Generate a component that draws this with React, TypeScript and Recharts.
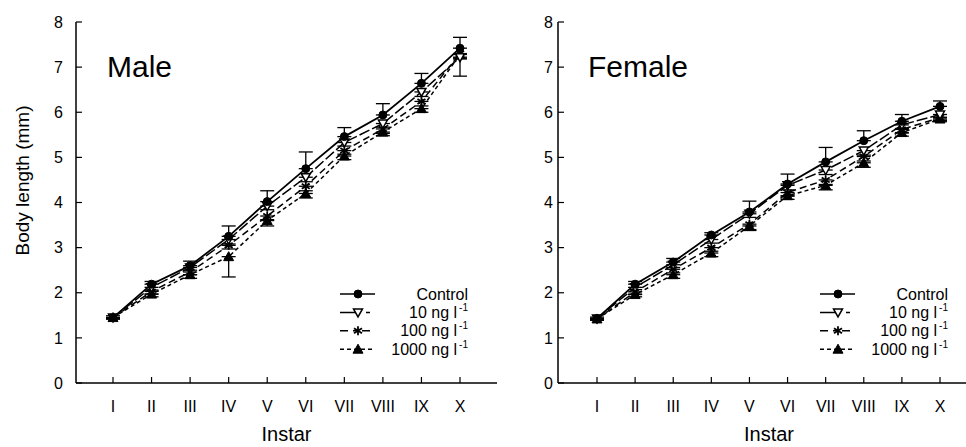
import React from 'react';
import { LineChart, Line, XAxis, YAxis, ErrorBar, Legend } from 'recharts';

const instars = ['I', 'II', 'III', 'IV', 'V', 'VI', 'VII', 'VIII', 'IX', 'X'];
const yTicks = [0, 1, 2, 3, 4, 5, 6, 7, 8];

// Male body length (mm)
const maleControl = [1.45, 2.19, 2.6, 3.25, 4.02, 4.75, 5.46, 5.94, 6.64, 7.42];
const male10 = [1.45, 2.12, 2.56, 3.18, 3.92, 4.56, 5.33, 5.75, 6.45, 7.22];
const male100 = [1.45, 2.03, 2.46, 3.05, 3.7, 4.36, 5.15, 5.63, 6.24, 7.3];
const male1000 = [1.45, 1.97, 2.4, 2.8, 3.6, 4.2, 5.03, 5.56, 6.08, 7.28];
const maleControlErr = [0.04, 0.06, 0.1, 0.23, 0.24, 0.37, 0.2, 0.25, 0.22, 0.24];
const male10Err = [0.03, 0.06, 0.06, 0.1, 0.08, 0.1, 0.08, 0.08, 0.1, 0.42];
const male100Err = [0.03, 0.06, 0.06, 0.08, 0.08, 0.1, 0.08, 0.1, 0.1, 0.1];
const male1000Err = [0.03, 0.06, 0.08, 0.45, 0.12, 0.1, 0.08, 0.08, 0.08, 0.1];

// Female body length (mm)
const femaleControl = [1.43, 2.19, 2.68, 3.28, 3.79, 4.41, 4.9, 5.37, 5.8, 6.13];
const female10 = [1.43, 2.12, 2.62, 3.18, 3.75, 4.38, 4.72, 5.15, 5.72, 5.95];
const female100 = [1.42, 2.02, 2.52, 3.0, 3.52, 4.22, 4.5, 5.02, 5.62, 5.88];
const female1000 = [1.42, 1.96, 2.4, 2.88, 3.48, 4.15, 4.38, 4.88, 5.55, 5.85];
const femaleControlErr = [0.03, 0.06, 0.08, 0.05, 0.24, 0.22, 0.32, 0.22, 0.15, 0.12];
const female10Err = [0.03, 0.05, 0.06, 0.08, 0.08, 0.1, 0.1, 0.1, 0.08, 0.06];
const female100Err = [0.03, 0.05, 0.08, 0.08, 0.12, 0.08, 0.1, 0.1, 0.08, 0.06];
const female1000Err = [0.03, 0.05, 0.08, 0.08, 0.1, 0.08, 0.1, 0.1, 0.08, 0.06];

const seriesLabels = ['Control', '10 ng l', '100 ng l', '1000 ng l'];
const seriesSup = ['', '-1', '-1', '-1'];

const FONT = '"Liberation Sans", Arial, Helvetica, sans-serif';

const SERIES = [
  { key: 'control', err: 'eControl', shape: 'circle', dash: undefined, legendDash: undefined },
  { key: 's10', err: 'e10', shape: 'tri-down', dash: '11 3', legendDash: '18 8 4 8' },
  { key: 's100', err: 'e100', shape: 'star', dash: '7 4', legendDash: '8 5 4 5' },
  { key: 's1000', err: 'e1000', shape: 'tri-up', dash: '4 3', legendDash: '4 3' },
];

function buildRows(c: number[], a: number[], b: number[], d: number[], ec: number[], ea: number[], eb: number[], ed: number[]) {
  return instars.map((instar, i) => ({
    instar,
    control: c[i],
    s10: a[i],
    s100: b[i],
    s1000: d[i],
    eControl: [0, ec[i]],
    e10: [ea[i], 0],
    e100: [eb[i], 0],
    e1000: [ed[i], 0],
  }));
}

const maleRows = buildRows(maleControl, male10, male100, male1000, maleControlErr, male10Err, male100Err, male1000Err);
const femaleRows = buildRows(femaleControl, female10, female100, female1000, femaleControlErr, female10Err, female100Err, female1000Err);

function marker(shape: string, cx: number, cy: number, key?: string | number) {
  if (cx == null || cy == null) return <g key={key} />;
  switch (shape) {
    case 'circle':
      return <circle key={key} cx={cx} cy={cy} r={4} fill="#000" stroke="#000" strokeWidth={1} />;
    case 'tri-down':
      return (
        <polygon
          key={key}
          points={`${cx - 4.5},${cy - 3.5} ${cx + 4.5},${cy - 3.5} ${cx},${cy + 4.5}`}
          fill="#fff"
          stroke="#000"
          strokeWidth={1.5}
        />
      );
    case 'star':
      return (
        <g key={key} stroke="#000" strokeWidth={1.8}>
          <line x1={cx} y1={cy - 4.5} x2={cx} y2={cy + 4.5} />
          <line x1={cx - 4} y1={cy - 2.5} x2={cx + 4} y2={cy + 2.5} />
          <line x1={cx - 4} y1={cy + 2.5} x2={cx + 4} y2={cy - 2.5} />
        </g>
      );
    default:
      return (
        <polygon
          key={key}
          points={`${cx},${cy - 5} ${cx - 5},${cy + 4} ${cx + 5},${cy + 4}`}
          fill="#000"
          stroke="#000"
          strokeWidth={1}
        />
      );
  }
}

const LegendBox = () => (
  <svg width={140} height={78} style={{ overflow: 'visible', display: 'block' }}>
    {SERIES.map((s, i) => {
      const y = 10 + i * 18.4;
      return (
        <g key={s.key}>
          <line x1={5} x2={40} y1={y} y2={y} stroke="#000" strokeWidth={1.5} strokeDasharray={s.legendDash} />
          {marker(s.shape, 23, y)}
          <text x={133} y={y + 5.5} textAnchor="end" fontSize={16} fontFamily={FONT} fill="#000">
            {seriesLabels[i]}
            {seriesSup[i] ? (
              <tspan dx={2} dy={-7} fontSize={10}>
                {seriesSup[i]}
              </tspan>
            ) : null}
          </text>
        </g>
      );
    })}
  </svg>
);

type PanelProps = {
  rows: any[];
  width: number;
  yAxisWidth: number;
  marginRight: number;
  yTickMargin: number;
  padL: number;
  padR: number;
  legendLeft: number;
  showYLabel: boolean;
};

function Panel({ rows, width, yAxisWidth, marginRight, yTickMargin, padL, padR, legendLeft, showYLabel }: PanelProps) {
  const tickStyle = { fontSize: 16, fontFamily: FONT, fill: '#000' };
  return (
    <LineChart width={width} height={447} data={rows} margin={{ top: 22, right: marginRight, bottom: 0, left: 0 }}>
      <XAxis
        dataKey="instar"
        type="category"
        scale="point"
        padding={{ left: padL, right: padR }}
        height={64}
        tickSize={-6}
        tickMargin={24}
        tick={tickStyle}
        axisLine={{ stroke: '#000', strokeWidth: 1.5 }}
        tickLine={{ stroke: '#000', strokeWidth: 1.2 }}
        interval={0}
        label={{
          content: (p: any) => {
            const vb = p.viewBox || {};
            return (
              <text
                x={vb.x + vb.width / 2}
                y={vb.y + 58}
                textAnchor="middle"
                fontSize={20}
                fontFamily={FONT}
                fill="#000"
              >
                Instar
              </text>
            );
          },
        }}
      />
      <XAxis xAxisId="top" dataKey="instar" orientation="top" height={0} tick={false} tickLine={false} axisLine={{ stroke: '#000', strokeWidth: 1.5 }} />
      <YAxis
        domain={[0, 8]}
        ticks={yTicks}
        type="number"
        width={yAxisWidth}
        tickSize={-6}
        tickMargin={yTickMargin}
        tick={tickStyle}
        axisLine={{ stroke: '#000', strokeWidth: 1.5 }}
        tickLine={{ stroke: '#000', strokeWidth: 1.2 }}
        interval={0}
        allowDataOverflow
        label={
          showYLabel
            ? {
                content: (p: any) => {
                  const vb = p.viewBox || {};
                  const cx = 22;
                  const cy = vb.y + vb.height / 2 - 22;
                  return (
                    <text
                      x={cx}
                      y={cy}
                      transform={`rotate(-90, ${cx}, ${cy})`}
                      textAnchor="middle"
                      dominantBaseline="central"
                      fontSize={19}
                      fontFamily={FONT}
                      fill="#000"
                    >
                      Body length (mm)
                    </text>
                  );
                },
              }
            : undefined
        }
      />
      <YAxis yAxisId="right" orientation="right" domain={[0, 8]} width={0} tick={false} tickLine={false} axisLine={{ stroke: '#000', strokeWidth: 1.5 }} />
      {[...SERIES].reverse().map((s) => (
        <Line
          key={s.key}
          dataKey={s.key}
          type="linear"
          stroke="#000"
          strokeWidth={s.key === 'control' ? 1.8 : 1.5}
          strokeDasharray={s.dash}
          isAnimationActive={false}
          dot={(p: any) => marker(s.shape, p.cx, p.cy, `${s.key}-${p.index}`)}
          activeDot={false}
        >
          <ErrorBar dataKey={s.err} direction="y" width={7} stroke="#000" strokeWidth={1.3} />
        </Line>
      ))}
      <Legend
        layout="horizontal"
        verticalAlign="middle"
        align="center"
        content={() => <LegendBox />}
        wrapperStyle={{ position: 'absolute', left: legendLeft, top: 284, width: 140, height: 78 }}
      />
    </LineChart>
  );
}

export default function App() {
  return (
    <div
      style={{
        position: 'absolute',
        left: 0,
        top: 0,
        width: 966,
        height: 447,
        overflow: 'hidden',
        background: '#fff',
        fontFamily: FONT,
      }}
    >
      <div style={{ position: 'absolute', left: 0, top: 0 }}>
        <Panel
          rows={maleRows}
          width={500}
          yAxisWidth={76}
          marginRight={3}
          yTickMargin={19}
          padL={37}
          padR={37}
          legendLeft={335}
          showYLabel
        />
      </div>
      <div style={{ position: 'absolute', left: 500, top: 0 }}>
        <Panel
          rows={femaleRows}
          width={480}
          yAxisWidth={58}
          marginRight={0}
          yTickMargin={11}
          padL={39}
          padR={40}
          legendLeft={315}
          showYLabel={false}
        />
      </div>
      <svg width={966} height={447} style={{ position: 'absolute', left: 0, top: 0, pointerEvents: 'none' }}>
        <text x={107} y={77} fontSize={30} fontFamily={FONT} fill="#000">
          Male
        </text>
        <text x={588} y={77} fontSize={30} fontFamily={FONT} fill="#000">
          Female
        </text>
      </svg>
    </div>
  );
}
